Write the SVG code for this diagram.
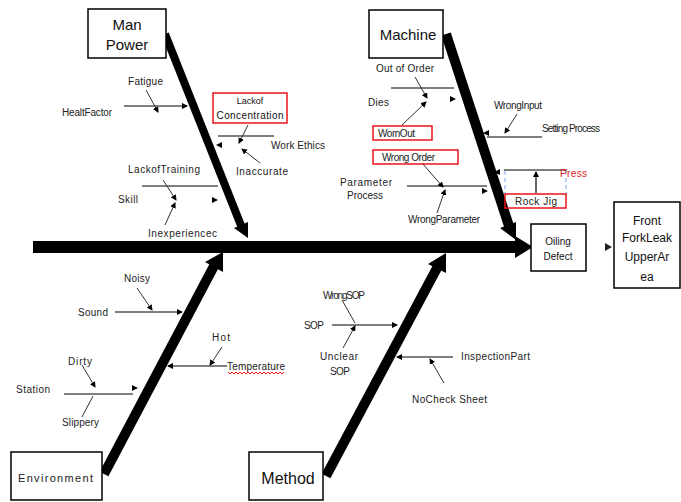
<svg xmlns="http://www.w3.org/2000/svg" width="681" height="502" viewBox="0 0 681 502">
<style>
.box{fill:#fff;stroke:#000;stroke-width:1.5}
.rbox{fill:none;stroke:#e8131b;stroke-width:1.5}
.bone{stroke:#000;fill:none}
.sub{stroke:#000;stroke-width:1.2;fill:none}
.thin{stroke:#333;stroke-width:1;fill:none}
.lbl{font-family:"Liberation Sans",Arial,sans-serif;font-size:10px;fill:#222}
.big{font-family:"Liberation Sans",Arial,sans-serif;fill:#111;text-anchor:middle}
.dash{stroke:#7aa7e8;stroke-width:1;stroke-dasharray:4,3;fill:none}
</style>
<defs>
<marker id="a" markerWidth="6" markerHeight="6" refX="5" refY="3" orient="auto" markerUnits="userSpaceOnUse">
<path d="M0,0 L6,3 L0,6 Z" fill="#000"/>
</marker>
</defs>
<rect width="681" height="502" fill="#fff"/>

<g id="connectors">
  <line x1="33" y1="247" x2="520" y2="247" class="bone" stroke-width="12"/>
  <polygon points="515,236 533,247 515,258" fill="#000"/>
  <line x1="165" y1="34" x2="242" y2="228" class="bone" stroke-width="8"/>
  <polygon points="234,228 248,238 248,222" fill="#000"/>
  <line x1="446" y1="34" x2="509" y2="226" class="bone" stroke-width="10"/>
  <polygon points="500,228 516,240 516,222" fill="#000"/>
  <line x1="104" y1="474" x2="214" y2="266" class="bone" stroke-width="10"/>
  <polygon points="205,262 223,252 223,272" fill="#000"/>
  <line x1="326" y1="476" x2="437" y2="268" class="bone" stroke-width="10"/>
  <polygon points="428,264 446,253 446,273" fill="#000"/>
  <polygon points="605,243 612,247 605,251" fill="#222"/>

  <line x1="124" y1="106" x2="187" y2="106" class="sub" marker-end="url(#a)"/>
  <line x1="146" y1="90" x2="158" y2="112" class="thin" marker-end="url(#a)"/>
  <line x1="274" y1="136" x2="218" y2="136" class="sub"/>
  <polygon points="222,142 216,145 222,148" fill="#000"/>
  <line x1="248" y1="125" x2="239" y2="143" class="thin" marker-end="url(#a)"/>
  <line x1="260" y1="163" x2="242" y2="149" class="thin" marker-end="url(#a)"/>
  <line x1="142" y1="186" x2="218" y2="186" class="sub"/>
  <polygon points="212,197 218,200 212,203" fill="#000"/>
  <line x1="163" y1="180" x2="176" y2="200" class="thin" marker-end="url(#a)"/>
  <line x1="165" y1="225" x2="175" y2="203" class="thin" marker-end="url(#a)"/>

  <line x1="391" y1="88" x2="454" y2="88" class="sub"/>
  <polygon points="450,96 456,99 450,102" fill="#000"/>
  <line x1="415" y1="77" x2="427" y2="98" class="thin" marker-end="url(#a)"/>
  <line x1="402" y1="125" x2="426" y2="102" class="thin" marker-end="url(#a)"/>
  <line x1="542" y1="137" x2="487" y2="137" class="sub"/>
  <polygon points="489,130 483,133 489,136" fill="#000"/>
  <line x1="517" y1="114" x2="505" y2="133" class="thin" marker-end="url(#a)"/>
  <line x1="407" y1="186" x2="487" y2="186" class="sub"/>
  <polygon points="482,188 488,191 482,194" fill="#000"/>
  <line x1="422" y1="163" x2="443" y2="187" class="thin" marker-end="url(#a)"/>
  <line x1="437" y1="213" x2="445" y2="190" class="thin" marker-end="url(#a)"/>
  <line x1="504" y1="170" x2="567" y2="170" class="sub"/>
  <polygon points="500,169 494,172 500,175" fill="#000"/>
  <line x1="536" y1="193" x2="536" y2="172" class="sub" marker-end="url(#a)"/>
  <line x1="505" y1="171" x2="505" y2="194" class="dash"/>
  <line x1="566" y1="171" x2="566" y2="194" class="dash"/>

  <line x1="115" y1="312" x2="182" y2="312" class="sub" marker-end="url(#a)"/>
  <line x1="137" y1="288" x2="152" y2="310" class="thin" marker-end="url(#a)"/>
  <line x1="227" y1="366" x2="168" y2="366" class="sub" marker-end="url(#a)"/>
  <line x1="222" y1="347" x2="210" y2="365" class="thin" marker-end="url(#a)"/>
  <line x1="64" y1="394" x2="133" y2="394" class="sub"/>
  <polygon points="132,385 138,388 132,391" fill="#000"/>
  <line x1="82" y1="365" x2="95" y2="387" class="thin" marker-end="url(#a)"/>
  <line x1="82" y1="417" x2="93" y2="396" class="thin"/>

  <line x1="332" y1="325" x2="397" y2="325" class="sub" marker-end="url(#a)"/>
  <line x1="342" y1="300" x2="355" y2="323" class="thin"/>
  <line x1="343" y1="348" x2="355" y2="326" class="thin" marker-end="url(#a)"/>
  <line x1="453" y1="357" x2="397" y2="357" class="sub" marker-end="url(#a)"/>
  <line x1="444" y1="383" x2="430" y2="359" class="thin" marker-end="url(#a)"/>
</g>

<g id="man-power">
  <rect x="88" y="9" width="78" height="49" class="box"/>
  <text x="127" y="30" class="big" font-size="15">Man</text>
  <text x="127" y="50" class="big" font-size="15">Power</text>
  <text x="128" y="85" class="lbl" textLength="35">Fatigue</text>
  <text x="62" y="116" class="lbl" textLength="50">HealtFactor</text>
  <rect x="213" y="93" width="74" height="30" class="rbox"/>
  <text x="250" y="104" class="big" font-size="9">Lackof</text>
  <text x="250" y="119" class="big" font-size="10" textLength="67">Concentration</text>
  <text x="271" y="149" class="lbl" textLength="54">Work Ethics</text>
  <text x="236" y="175" class="lbl" textLength="52">Inaccurate</text>
  <text x="128" y="173" class="lbl" textLength="72">LackofTraining</text>
  <text x="118" y="203" class="lbl" textLength="20">Skill</text>
  <text x="148" y="237" class="lbl" textLength="69">Inexperiencec</text>
</g>

<g id="machine">
  <rect x="369" y="10" width="74" height="48" class="box"/>
  <text x="408" y="40" class="big" font-size="15">Machine</text>
  <text x="376" y="72" class="lbl" textLength="58">Out of Order</text>
  <text x="368" y="106" class="lbl" textLength="21">Dies</text>
  <rect x="373" y="126" width="59" height="14" class="rbox"/>
  <text x="378" y="137" class="lbl" textLength="37">WornOut</text>
  <text x="494" y="109" class="lbl" textLength="48">WrongInput</text>
  <text x="542" y="132" class="lbl" textLength="58">Setting Process</text>
  <rect x="373" y="150" width="85" height="14" class="rbox"/>
  <text x="382" y="161" class="lbl" textLength="53">Wrong   Order</text>
  <text x="340" y="186" class="lbl" textLength="52">Parameter</text>
  <text x="347" y="199" class="lbl" textLength="36">Process</text>
  <text x="408" y="223" class="lbl" textLength="72">WrongParameter</text>
  <text x="560" y="177" class="lbl" style="fill:#d22" textLength="27">Press</text>
  <rect x="505" y="194" width="61" height="14" class="rbox"/>
  <text x="515" y="205" class="lbl" textLength="42">Rock Jig</text>
</g>

<g id="environment">
  <rect x="11" y="452" width="91" height="48" class="box"/>
  <text x="18" y="482" class="lbl" font-size="11" style="font-size:11px" textLength="75">Environment</text>
  <text x="124" y="282" class="lbl" textLength="26">Noisy</text>
  <text x="78" y="316" class="lbl" textLength="30">Sound</text>
  <text x="212" y="341" class="lbl" textLength="18">Hot</text>
  <text x="227" y="370" class="lbl" textLength="58">Temperature</text>
  <polyline points="228,372 230,374 232,372 234,374 236,372 238,374 240,372 242,374 244,372 246,374 248,372 250,374 252,372 254,374 256,372 258,374 260,372 262,374 264,372 266,374 268,372 270,374 272,372 274,374 276,372 278,374 280,372 282,374 284,372" fill="none" stroke="#e8131b" stroke-width="1"/>
  <text x="68" y="365" class="lbl" textLength="24">Dirty</text>
  <text x="16" y="393" class="lbl" textLength="34">Station</text>
  <text x="62" y="426" class="lbl" textLength="37">Slippery</text>
</g>

<g id="method">
  <rect x="249" y="452" width="74" height="48" class="box"/>
  <text x="288" y="484" class="big" font-size="16">Method</text>
  <text x="323" y="299" class="lbl" textLength="42">WrongSOP</text>
  <text x="304" y="329" class="lbl" textLength="20">SOP</text>
  <text x="320" y="360" class="lbl" textLength="38">Unclear</text>
  <text x="330" y="375" class="lbl" textLength="20">SOP</text>
  <text x="461" y="360" class="lbl" textLength="69">InspectionPart</text>
  <text x="412" y="403" class="lbl" textLength="75">NoCheck Sheet</text>
</g>

<g id="oiling-defect">
  <rect x="531" y="224" width="55" height="47" class="box"/>
  <text x="558" y="245" class="big" font-size="10">Oiling</text>
  <text x="558" y="260" class="big" font-size="10">Defect</text>
</g>

<g id="front-fork">
  <rect x="614" y="202" width="66" height="86" class="box"/>
  <text x="647" y="225" class="big" font-size="12">Front</text>
  <text x="647" y="242" class="big" font-size="12">ForkLeak</text>
  <text x="647" y="261" class="big" font-size="12">UpperAr</text>
  <text x="647" y="281" class="big" font-size="12">ea</text>
</g>
</svg>
